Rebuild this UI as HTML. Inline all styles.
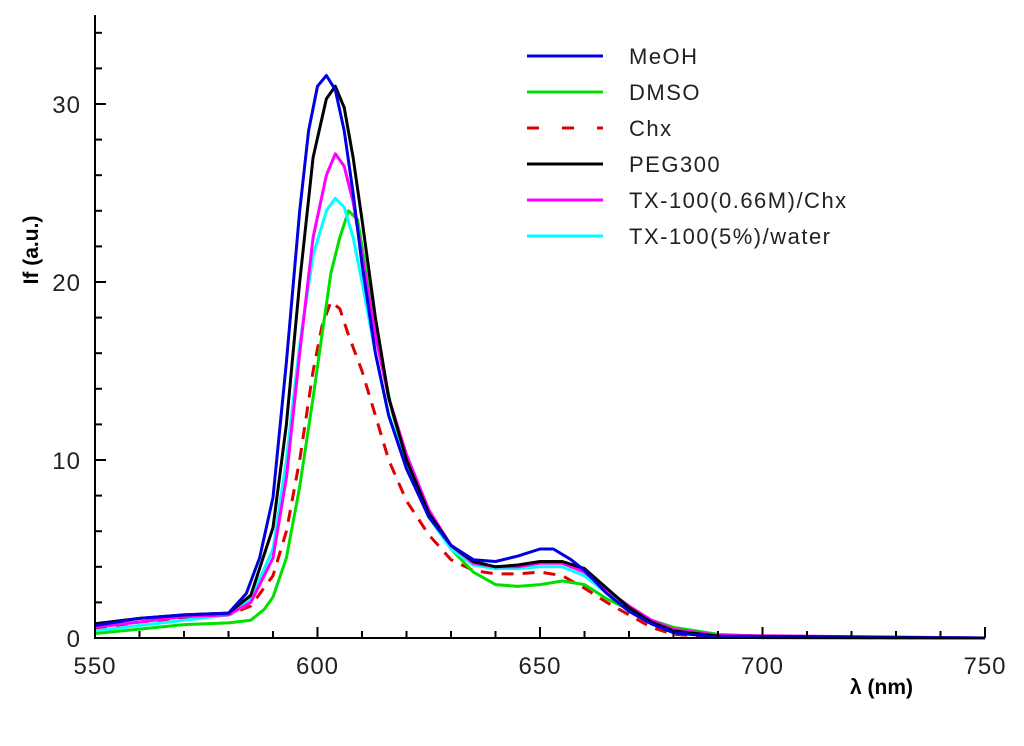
<!DOCTYPE html>
<html><head><meta charset="utf-8"><style>
body{margin:0;background:#fff;}
svg text{font-family:"Liberation Sans",sans-serif;}
</style></head><body>
<svg id="chart" width="1024" height="741" xmlns="http://www.w3.org/2000/svg"></svg>
<script>
const xTicks=[550,600,650,700,750];
const yTicks=[0,10,20,30];
const names=["MeOH","DMSO","Chx","PEG300","TX-100(0.66M)/Chx","TX-100(5%)/water"];
const colors=["#0000e0","#00e000","#e00000","#000000","#ff00ff","#00ffff"];
const meohX=[550,560,570,580,584,587,590,593,596,598,600,602,604,606,608,610,613,616,620,625,630,635,640,645,650,653,657,660,665,670,675,680,690,700,750];
const meohY=[0.7,1.1,1.3,1.4,2.5,4.5,7.9,15.5,24,28.5,31,31.6,30.8,28.5,25,21,16,12.5,9.5,6.8,5.2,4.4,4.3,4.6,5.0,5.0,4.4,3.8,2.5,1.5,0.8,0.3,0.05,0.02,0];
const dmsoX=[550,560,570,580,585,588,590,593,596,599,601,603,605,607,609,611,614,617,620,625,630,635,640,645,650,655,660,665,670,675,680,690,700,750];
const dmsoY=[0.25,0.5,0.75,0.85,1.0,1.6,2.3,4.5,8.5,13.5,17,20.5,22.5,24,23.5,20.5,16,12.5,10,7,5,3.7,3.0,2.9,3.0,3.2,3.0,2.2,1.6,1.0,0.6,0.2,0.1,0];
const chxX=[550,560,570,580,585,590,593,596,599,601,603,605,607,610,613,616,620,625,630,635,640,645,650,655,660,665,670,675,680,690,750];
const chxY=[0.5,0.9,1.1,1.3,1.8,3.5,6,10,15,17.5,18.9,18.5,17,15,12.5,10,7.7,5.8,4.4,3.8,3.6,3.6,3.7,3.5,2.8,2,1.3,0.6,0.2,0.05,0];
const stdX=[550,560,570,580,585,590,593,596,599,602,604,606,608,610,613,616,620,625,630,635,640,645,650,655,660,665,670,675,680,690,750];
const pegY=[0.8,1.1,1.3,1.4,2.4,6.2,12,20,27,30.3,31,29.8,27,23.5,18,13.5,10,7,5.2,4.3,4.0,4.1,4.3,4.3,3.9,2.8,1.7,0.9,0.4,0.1,0];
const txChxY=[0.6,0.9,1.2,1.3,2.0,4.5,9,16,22.5,26,27.2,26.5,24.5,21.5,17,13.5,10.3,7.2,5.2,4.2,4.0,4.0,4.2,4.2,3.7,2.7,1.8,1.0,0.5,0.15,0];
const txWatY=[0.4,0.7,1.0,1.3,2.2,5,10,16.5,21.5,24,24.7,24.2,22.5,20,16,12.5,9.8,6.8,5.0,4.1,3.9,3.9,4.0,4.0,3.5,2.5,1.6,0.9,0.4,0.1,0];
const seriesX=[meohX,dmsoX,chxX,stdX,stdX,stdX];
const seriesY=[meohY,dmsoY,chxY,pegY,txChxY,txWatY];

const NS="http://www.w3.org/2000/svg";
const svg=document.getElementById("chart");
const X0=95,X1=985,Y0=638,YT=15;
const sx=v=>X0+(v-550)*(X1-X0)/200;
const sy=v=>Y0-v*17.8;
function mk(t,a,p){const e=document.createElementNS(NS,t);for(const k in a)e.setAttribute(k,a[k]);(p||svg).appendChild(e);return e;}

const order=[2,1,5,4,3,0];
for(const i of order){
  const d=seriesX[i].map((x,j)=>(j?"L":"M")+sx(x).toFixed(1)+" "+sy(seriesY[i][j]).toFixed(1)).join(" ");
  const p=mk("path",{d:d,fill:"none",stroke:colors[i],"stroke-width":3,"stroke-linejoin":"round"});
  if(i===2)p.setAttribute("stroke-dasharray","12 9");
  
  
}
const ax=mk("path",{d:`M${X0} ${YT} L${X0} ${Y0} L${X1} ${Y0}`,fill:"none",stroke:"#000","stroke-width":2});


for(let v=550;v<=750;v+=10){
  const t=mk("line",{x1:sx(v),x2:sx(v),y1:Y0,y2:Y0-(v%50===0?11:7),stroke:"#000","stroke-width":2});
  
  
}
for(let v=0;v<=34;v+=2){
  const t=mk("line",{x1:X0,x2:X0+(v%10===0?11:7),y1:sy(v),y2:sy(v),stroke:"#000","stroke-width":2});
  
  
}
for(const v of xTicks){
  const t=mk("text",{x:sx(v),y:Y0+36,"text-anchor":"middle","font-size":24,fill:"#222","letter-spacing":"1"});
  t.textContent=v;
  
  
}
for(const v of yTicks){
  const t=mk("text",{x:X0-14,y:sy(v)+9,"text-anchor":"end","font-size":24,fill:"#222","letter-spacing":"1"});
  t.textContent=v;
  
  
}
const xl=mk("text",{x:850,y:694,"font-size":21,"font-weight":"bold"});
xl.textContent="λ (nm)";


const yl=mk("text",{x:38,y:250,"font-size":21,"font-weight":"bold","text-anchor":"middle",transform:"rotate(-90 38 250)"});
yl.textContent="If (a.u.)";


for(let i=0;i<6;i++){
  const y=56+i*36;
  const g=mk("g",{});
  
  
  const l=mk("line",{x1:527,x2:603,y1:y,y2:y,stroke:colors[i],"stroke-width":3},g);
  if(i===2)l.setAttribute("stroke-dasharray","12 23");
  const t=mk("text",{x:629,y:y+8,"font-size":22,fill:"#222","letter-spacing":"1.5"},g);
  t.textContent=names[i];
}
</script>
</body></html>
